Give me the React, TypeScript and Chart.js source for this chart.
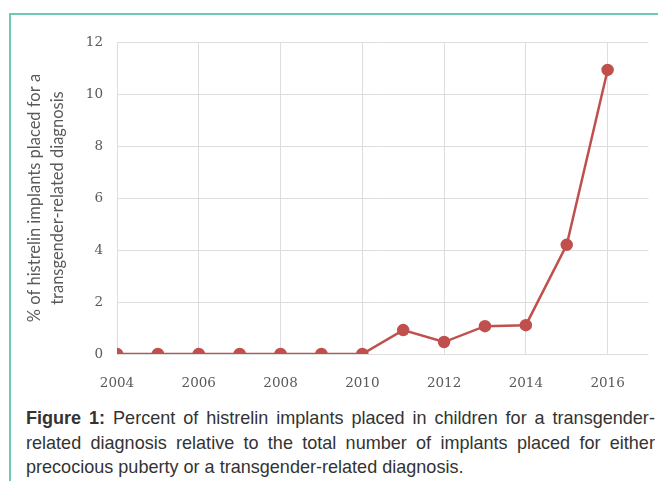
import React, { useEffect, useRef } from "react";
import { Chart, registerables } from "chart.js";

Chart.register(...registerables);

const years = [2004, 2005, 2006, 2007, 2008, 2009, 2010, 2011, 2012, 2013, 2014, 2015, 2016];
const percents = [0, 0, 0, 0, 0, 0, 0, 0.92, 0.46, 1.07, 1.11, 4.2, 10.93];
const xTicks = [2004, 2006, 2008, 2010, 2012, 2014, 2016];
const yTitle = ["% of histrelin implants placed for a", "transgender-related diagnosis"];
const captionBold = "Figure 1:";
const captionText =
  " Percent of histrelin implants placed in children for a transgender-related diagnosis relative to the total number of implants placed for either precocious puberty or a transgender-related diagnosis.";

export default function App() {
  const ref = useRef<HTMLCanvasElement>(null);
  useEffect(() => {
    document.body.style.margin = "0";
    document.documentElement.style.overflow = "hidden";
    const ctx = ref.current!;
    const chart = new Chart(ctx, {
      type: "line",
      data: {
        datasets: [
          {
            data: years.map((y, i) => ({ x: y, y: percents[i] })),
            borderColor: "#c0504d",
            backgroundColor: "#c0504d",
            borderWidth: 2.5,
            pointRadius: 5,
            pointHoverRadius: 5,
            tension: 0,
          },
        ],
      },
      options: {
        animation: false,
        responsive: false,
        maintainAspectRatio: false,
        layout: { padding: { top: 10, right: 6, bottom: 0, left: 0 } },
        plugins: { legend: { display: false }, tooltip: { enabled: false } },
        scales: {
          x: {
            type: "linear",
            min: 2004,
            max: 2017,
            afterBuildTicks: (s: any) => {
              s.ticks = xTicks.map((v) => ({ value: v }));
            },
            ticks: {
              padding: 21,
              color: "#595959",
              font: { family: "DejaVu Serif", size: 13.5 },
              callback: (v: any) => String(v),
            },
            grid: { color: "#dedede", drawTicks: false, lineWidth: 1 },
            border: { display: false },
            afterFit: (s: any) => {
              s.height = 44;
            },
          },
          y: {
            min: 0,
            max: 12,
            ticks: {
              stepSize: 2,
              padding: 14,
              color: "#595959",
              font: { family: "DejaVu Serif", size: 13.5 },
            },
            grid: { color: "#dedede", drawTicks: false, lineWidth: 1 },
            border: { display: false },
            title: {
              display: true,
              text: yTitle,
              color: "#595959",
              font: { family: "Lato", size: 16.5, lineHeight: 1.4 },
              padding: { top: 3, bottom: 0 },
            },
            afterFit: (s: any) => {
              s.width = 97;
            },
          },
        },
      },
    });
    return () => chart.destroy();
  }, []);

  return (
    <div style={{ position: "relative", width: 658, height: 481, overflow: "hidden" }}>
      <div
        style={{
          position: "absolute",
          left: 9,
          top: 13,
          width: 660,
          height: 480,
          borderTop: "2px solid #6ccab7",
          borderLeft: "2px solid #6ccab7",
        }}
      />
      <canvas
        ref={ref}
        width={636}
        height={378}
        style={{ position: "absolute", left: 20, top: 20, width: 636, height: 378 }}
      />
      <div
        style={{
          position: "absolute",
          left: 26,
          top: 406,
          width: 662,
          transform: "scaleX(0.95)",
          transformOrigin: "0 0",
          fontFamily: "Liberation Sans, Arial, sans-serif",
          fontSize: 19,
          lineHeight: "24.5px",
          color: "#333",
          textAlign: "justify",
        }}
      >
        <b>{captionBold}</b>
        {captionText}
      </div>
    </div>
  );
}
